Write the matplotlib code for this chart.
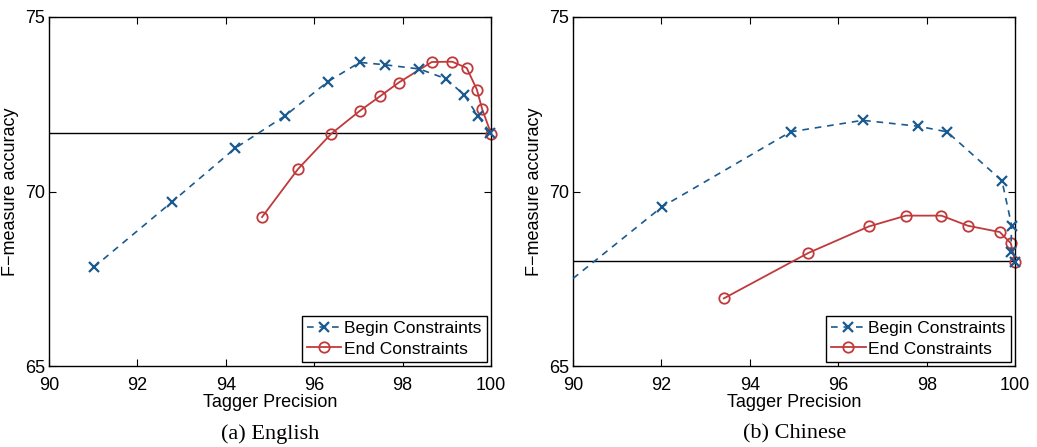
import numpy as np
import matplotlib
matplotlib.use("Agg")
import matplotlib.pyplot as plt

plt.rcParams['font.family'] = ['Liberation Sans', 'DejaVu Sans']

# English: tagger precision vs F-measure
en_begin_x = [91.01, 92.78, 94.21, 95.34, 96.31, 97.03, 97.61, 98.38, 98.98, 99.39, 99.71, 99.98]
en_begin_y = [67.83, 69.70, 71.24, 72.17, 73.15, 73.70, 73.63, 73.51, 73.23, 72.77, 72.15, 71.69]
en_end_x = [94.82, 95.63, 96.38, 97.03, 97.49, 97.91, 98.66, 99.12, 99.45, 99.68, 99.80, 100.0]
en_end_y = [69.27, 70.64, 71.65, 72.31, 72.73, 73.12, 73.71, 73.72, 73.54, 72.92, 72.36, 71.66]
en_baseline = 71.68

# Chinese (begin curve enters from the left edge, no marker there)
zh_begin_x = [90.0, 92.01, 94.92, 96.55, 97.81, 98.46, 99.70, 99.92, 99.90, 100.0]
zh_begin_y = [67.51, 69.56, 71.71, 72.04, 71.87, 71.71, 70.31, 69.02, 68.28, 67.99]
zh_end_x = [93.41, 95.32, 96.69, 97.53, 98.33, 98.93, 99.65, 99.90, 100.0]
zh_end_y = [66.94, 68.24, 69.00, 69.31, 69.31, 69.02, 68.84, 68.52, 67.99]
zh_baseline = 68.01

blue = '#1a5a8e'
red = '#c0393b'

fig = plt.figure(figsize=(10.37, 4.47), dpi=100)
ax1 = fig.add_axes([0.0473, 0.181, 0.4262, 0.781])
ax2 = fig.add_axes([0.5526, 0.181, 0.4264, 0.781])

panels = [
    (ax1, en_begin_x, en_begin_y, None, en_end_x, en_end_y, en_baseline, '(a) English'),
    (ax2, zh_begin_x, zh_begin_y, slice(1, None), zh_end_x, zh_end_y, zh_baseline, '(b) Chinese'),
]

for ax, bx, by, bmark, ex, ey, base, caption in panels:
    ax.axhline(base, color='black', lw=1.0, zorder=1)
    ax.plot(bx, by, linestyle=(0, (4, 3.5)), color=blue, marker='x', ms=6.5, mew=1.6,
            lw=1.2, markevery=bmark, label='Begin Constraints', zorder=3, clip_on=False)
    ax.plot(ex, ey, linestyle='-', color=red, marker='o', ms=7.5, mfc='none', mew=1.3,
            lw=1.3, label='End Constraints', zorder=2, clip_on=False)
    ax.set_xlim(90, 100)
    ax.set_ylim(65, 75)
    ax.set_xticks(np.arange(90, 101, 2))
    ax.set_yticks([65, 70, 75])
    ax.tick_params(direction='in', top=True, right=True, labelsize=13, length=5)
    ax.tick_params(axis='x', pad=8)
    ax.tick_params(axis='y', pad=3)
    for s in ax.spines.values():
        s.set_linewidth(1.0)
    ax.set_xlabel('Tagger Precision', fontsize=13, labelpad=0)
    ax.set_ylabel('F\u2212measure accuracy', fontsize=13, labelpad=4)
    leg = ax.legend(loc='lower right', fontsize=12.5, handlelength=2.0, handletextpad=0.15,
                    borderpad=0.3, labelspacing=0.3, borderaxespad=0.25,
                    fancybox=False, framealpha=1, edgecolor='black')
    leg.get_frame().set_linewidth(1.0)
    ax.text(0.5, -0.195, caption, transform=ax.transAxes, ha='center', va='center',
            fontsize=16, family='Liberation Serif')

fig.savefig('out.png', dpi=100)
